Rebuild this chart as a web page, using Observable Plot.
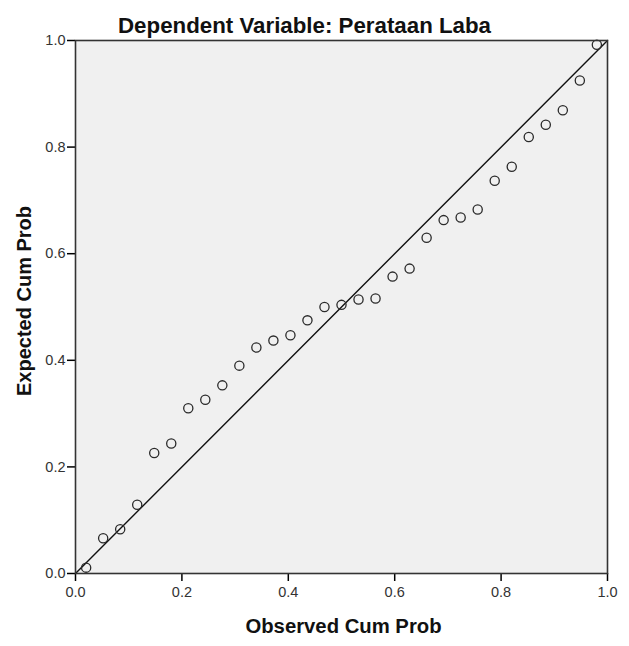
<!DOCTYPE html>
<html>
<head>
<meta charset="utf-8">
<script src="https://cdn.jsdelivr.net/npm/d3@7"></script>
<script src="https://cdn.jsdelivr.net/npm/@observablehq/plot@0.6"></script>
<style>
  html, body { margin: 0; padding: 0; background: #ffffff; }
  #chart { width: 629px; height: 646px; }
  #chart svg { display: block; }
</style>
</head>
<body>
<div id="chart"></div>
<script>
// Normal P-P plot of regression standardized residual
const titleText = "Dependent Variable: Perataan Laba";
const xTitle = "Observed Cum Prob";
const yTitle = "Expected Cum Prob";
const tickValues = [0, 0.2, 0.4, 0.6, 0.8, 1.0];
const refLineEnds = [0, 1];

const observedCumProb = [
  0.020, 0.052, 0.084, 0.116, 0.148, 0.180, 0.212, 0.244, 0.276, 0.308,
  0.340, 0.372, 0.404, 0.436, 0.468, 0.500, 0.532, 0.564, 0.596, 0.628,
  0.660, 0.692, 0.724, 0.756, 0.788, 0.820, 0.852, 0.884, 0.916, 0.948,
  0.980
];
const expectedCumProb = [
  0.011, 0.066, 0.083, 0.129, 0.226, 0.244, 0.310, 0.326, 0.353, 0.390,
  0.424, 0.437, 0.447, 0.475, 0.500, 0.504, 0.514, 0.516, 0.557, 0.572,
  0.630, 0.663, 0.668, 0.683, 0.737, 0.763, 0.819, 0.842, 0.869, 0.925,
  0.992
];

const points = observedCumProb.map((o, i) => ({observed: o, expected: expectedCumProb[i]}));

const chart = Plot.plot({
  width: 629,
  height: 646,
  marginTop: 40,
  marginRight: 22,
  marginBottom: 73,
  marginLeft: 75,
  style: {background: "transparent", fontFamily: "'Liberation Sans', Arial, sans-serif", fontSize: "14.5px"},
  x: {domain: [0, 1]},
  y: {domain: [0, 1]},
  marks: [
    Plot.frame({fill: "#f0f0f0", stroke: null}),
    Plot.axisX({
      ticks: tickValues, tickFormat: d3.format(".1f"), tickSize: 8, tickPadding: 5,
      fontSize: 14.5, color: "#333", stroke: "#000", strokeWidth: 1.5, label: null
    }),
    Plot.axisY({
      ticks: tickValues, tickFormat: d3.format(".1f"), tickSize: 8, tickPadding: 2,
      fontSize: 14.5, color: "#333", stroke: "#000", strokeWidth: 1.5, label: null
    }),
    Plot.line(refLineEnds, {x: d => d, y: d => d, stroke: "#111", strokeWidth: 1.4}),
    Plot.dot(points, {x: "observed", y: "expected", r: 4.6, stroke: "#2a2a2a", strokeWidth: 1.3, fill: "none"}),
    Plot.frame({stroke: "#333", strokeWidth: 1.6}),
    Plot.text([titleText], {
      frameAnchor: "top", dx: -37, dy: -8, lineAnchor: "bottom", textAnchor: "middle",
      fontSize: 22.3, fontWeight: "bold", fill: "#111"
    }),
    Plot.text([xTitle], {
      frameAnchor: "bottom", dx: 2, dy: 59, lineAnchor: "bottom", textAnchor: "middle",
      fontSize: 20.3, fontWeight: "bold", fill: "#111"
    }),
    Plot.text([yTitle], {
      frameAnchor: "left", dx: -45, dy: -6, rotate: -90, lineAnchor: "bottom", textAnchor: "middle",
      fontSize: 20, fontWeight: "bold", fill: "#111"
    })
  ]
});

document.getElementById("chart").appendChild(chart);
</script>
</body>
</html>
